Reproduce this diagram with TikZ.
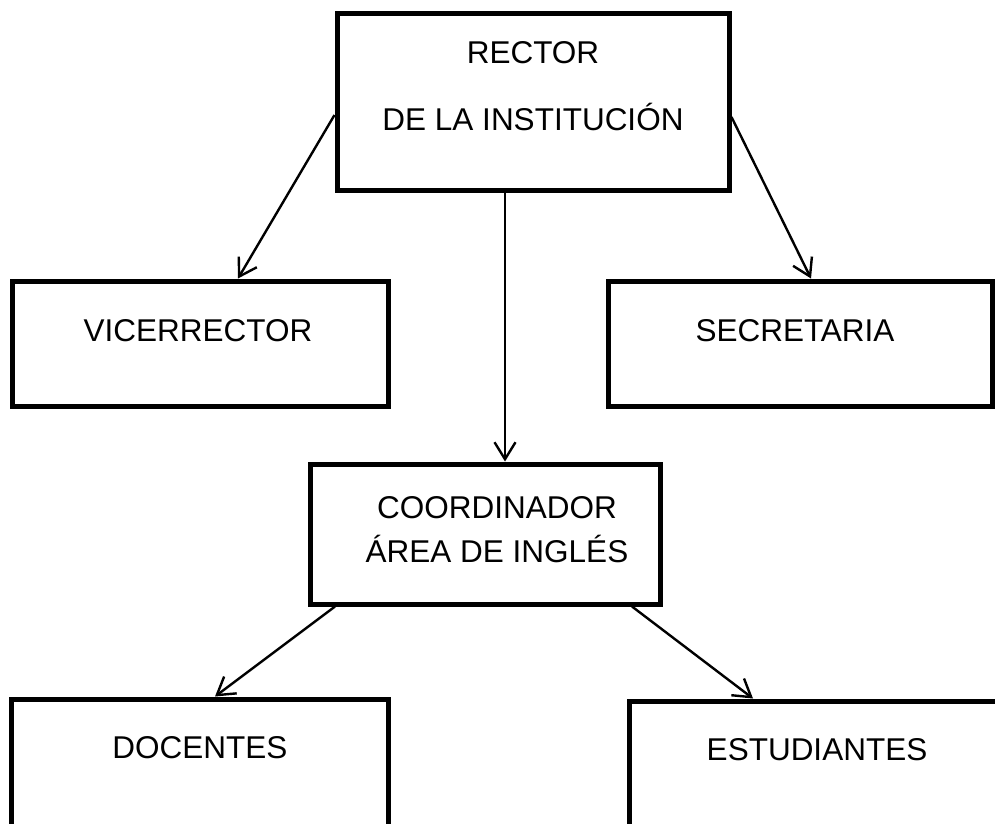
\documentclass[tikz,border=0pt]{standalone}
\usepackage{fontspec}
\setmainfont{Liberation Sans}
\usetikzlibrary{arrows.meta}
\begin{document}
\begin{tikzpicture}[x=1pt,y=-1pt,
  box/.style={draw, line width=5pt, rectangle, inner sep=0pt, fill=none},
  lbl/.style={font=\fontsize{31.5}{36}\selectfont, anchor=base, inner sep=0pt},
  conn/.style={line width=2.4pt, -{Straight Barb[length=17pt,width=21pt,line width=2.4pt]}}
]
\clip (0,0) rectangle (995,823);
\fill[white] (0,0) rectangle (995,823);
% boxes
\node[box,minimum width=392pt,minimum height=177pt] (rector) at (533,101.5) {};
\node[box,minimum width=376pt,minimum height=125pt] (vice) at (200,343.5) {};
\node[box,minimum width=384pt,minimum height=125pt] (secre) at (800,343.5) {};
\node[box,minimum width=350pt,minimum height=140pt] (coord) at (485,534) {};
\node[box,minimum width=377pt,minimum height=141pt] (doc) at (199.5,769.5) {};
\node[box,minimum width=381pt,minimum height=139pt] (est) at (819.5,770.5) {};
% texts
\node[lbl] (tR1) at (533,63) {RECTOR};
\node[lbl] (tR2) at (533,130) {DE LA INSTITUCIÓN};
\node[lbl] (tV) at (198,341) {VICERRECTOR};
\node[lbl] (tS) at (795,341) {SECRETARIA};
\node[lbl] (tC1) at (497,518) {COORDINADOR};
\node[lbl] (tC2) at (497,562) {ÁREA DE INGLÉS};
\node[lbl] (tD) at (200,758) {DOCENTES};
\node[lbl] (tE) at (817,760) {ESTUDIANTES};
% connectors
\draw[conn] ([yshift=-13.5pt]rector.west) -- ([xshift=38pt]vice.north);
\draw[conn] ([yshift=-15.5pt]rector.east) -- ([xshift=11pt]secre.north);
\draw[conn] ([xshift=-28pt]rector.south) -- ([xshift=20pt]coord.north);
\draw[conn] ([xshift=-150pt]coord.south) -- ([xshift=15.5pt]doc.north);
\draw[conn] ([xshift=147pt]coord.south) -- ([xshift=-66.5pt]est.north);
\end{tikzpicture}
\end{document}
